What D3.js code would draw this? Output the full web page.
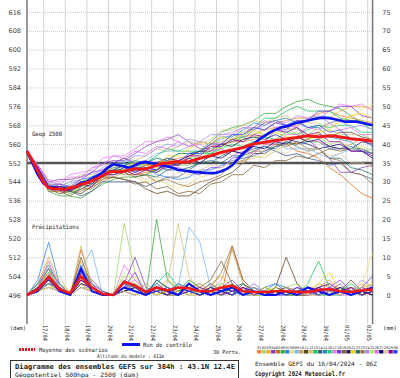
<!DOCTYPE html>
<html>
<head>
<meta charset="utf-8">
<script src="https://cdnjs.cloudflare.com/ajax/libs/d3/7.8.5/d3.min.js"></script>
<style>
body { margin: 0; background: #fff; }
svg { display: block; }
.mono { font-family: "DejaVu Sans Mono", "Liberation Mono", monospace; fill: #222; }
.tick text { font-family: "DejaVu Sans", Verdana, sans-serif; font-size: 6.5px; fill: #444; }
</style>
</head>
<body>
<div id="chart"></div>
<script>
// chart size
var width = 400;
var height = 378;

// time steps (hours after 16/04 06Z)
var hours12 = d3.range(0, 385, 12);
var hours6 = d3.range(0, 385, 6);
var dayHours = d3.range(18, 384, 24);
var dates = ["17/04","18/04","19/04","20/04","21/04","22/04","23/04","24/04",
  "25/04","26/04","27/04","28/04","29/04","30/04","01/05","02/05"];

// axis ticks
var damTicks = d3.range(496, 617, 8);
var mmTicks = d3.range(0, 76, 5);

// legend colours of the 30 perturbations
var pertColors = ["#f08040","#a8d468","#f0a830","#8040b8","#d86818","#38a838","#3080f0","#f0e078",
  "#78b8f0","#c89858","#604018","#d0c078","#20c058","#405888","#2888c0","#20d070","#e080f0",
  "#8030f0","#806030","#202060","#f0d010","#207070","#a07040","#a090f0","#b0f070","#e070e0",
  "#100080","#e0c8a0","#900090","#3040f0"];

// mean of scenarios, Z500 (dam), 6h steps
var meanZ500 = [557,553,548.5,544,541.5,541,541,540.5,541.5,541.8,543,543.5,544.5,545.5,546.5,548,
  548.5,548.2,548.5,549,549.5,549.3,549.5,550.2,551,551.8,552,552.3,552.5,552.3,552.5,553.2,554,
  554.5,555,555.8,556.5,557,557.5,558,558.5,559.3,560,560.4,560.8,561.2,561.5,561.8,562.2,562.5,562.8,
  563.2,563.5,563.3,563,563.2,563.5,563.4,563,562.7,562.3,562,561.8,561.5,561.2];

// control run, Z500 (dam), 6h steps
var ctrlZ500 = [557,552,547,543.5,542,541.5,541,540.5,541,542,543.5,544,545,546.5,548,550,551.5,
  551,550.5,550,551,552,552.4,552,551.5,551,550.5,550,549,548.8,548.5,548.2,548,547.8,547.7,547.8,
  548.5,549.5,551,553.5,556,558,560,562,563.5,565,566,567,567.5,568.3,569,569.5,570,570.5,571,
  571.2,571,570.5,570,569.5,569.5,569.5,569,568.5,568];

// perturbations, Z500 (dam), 12h steps
var pertZ500 = [
  [557,550,542,541,540,542,545,546,549,548,550,551,552,553,554,555,557,559,560,561,563,564,566,569,570,571,571,573,574,572,571,570,569],
  [557,549,543,542,542,544,545,548,549,551,552,552,554,553,551,551,554,555,556,559,562,563,564,566,567,566,564,567,569,570,570,570,568],
  [557,550,541,540,542,543,543,545,548,548,546,547,550,551,552,554,557,557,559,561,561,562,564,567,567,568,570,571,571,574,576,576,575],
  [557,551,544,545,545,546,548,552,553,553,556,559,561,562,564,561,558,558,560,561,562,566,569,570,568,567,562,558,554,548,548,550,551],
  [557,550,542,541,540,542,545,546,549,549,547,548,549,551,553,552,554,556,556,557,559,561,560,560,560,557,556,554,550,547,543,539,537],
  [557,549,540,538,538,537,540,543,545,546,546,547,549,553,556,556,557,561,565,567,568,570,573,573,576,578,579,577,576,575,572,569,568],
  [557,550,543,542,542,541,543,547,548,548,550,550,547,546,545,546,549,549,551,553,554,555,557,559,560,560,561,561,558,558,559,557,556],
  [557,549,541,541,539,541,544,545,548,548,546,544,545,543,541,543,546,547,548,551,553,554,555,557,560,560,562,565,568,569,571,575,577],
  [557,550,542,541,543,545,546,548,551,553,552,553,556,557,557,559,561,560,562,564,563,561,561,561,558,558,558,556,554,556,558,557,558],
  [557,549,542,542,540,540,542,544,546,548,550,549,551,553,553,554,557,560,561,562,565,567,566,567,567,564,561,561,559,558,560,562,561],
  [557,550,541,539,540,539,542,546,546,545,544,541,539,540,538,538,541,544,546,548,552,556,556,559,561,560,562,564,563,565,565,563,562],
  [557,550,543,542,544,547,547,549,552,554,553,555,558,557,559,561,560,562,566,566,568,570,569,571,572,569,569,569,566,564,564,564,562],
  [557,549,542,542,541,544,546,548,549,551,553,552,555,558,557,557,557,556,559,562,563,567,571,571,574,576,574,574,574,571,570,569,566],
  [557,550,541,540,540,538,540,544,544,544,544,542,544,546,546,549,552,552,555,557,556,558,559,557,555,556,554,553,551,552,548,547,545],
  [557,550,543,543,541,543,546,548,551,552,550,552,554,553,556,556,557,560,563,563,566,569,568,570,571,569,567,567,563,562,561,557,556],
  [557,549,541,541,540,542,545,546,550,548,549,549,548,550,552,552,556,556,558,560,559,561,563,562,565,564,566,568,567,568,568,565,565],
  [557,551,545,544,547,548,549,554,555,555,558,561,561,563,561,559,561,560,564,564,567,567,570,567,568,567,571,571,574,577,576,577,574],
  [557,550,542,543,542,545,548,549,552,554,552,553,551,549,550,548,547,550,550,554,555,560,561,566,566,570,570,574,574,576,576,572,571],
  [557,549,540,540,538,541,541,545,546,545,543,544,541,542,539,540,539,543,544,547,547,551,550,553,553,555,554,556,558,557,558,558,556],
  [557,550,542,541,542,542,546,547,550,551,549,551,552,554,553,555,557,557,560,559,562,563,562,564,562,561,560,558,559,558,558,561,560],
  [557,550,543,542,541,544,545,547,551,550,552,551,551,555,555,558,561,560,563,562,564,566,564,565,563,563,561,565,566,570,572,573,571],
  [557,549,541,541,539,541,543,547,547,548,546,547,546,549,549,550,552,553,552,555,555,557,559,558,561,559,557,558,554,554,550,549,547],
  [557,550,542,541,542,541,544,545,549,547,547,547,544,545,543,542,544,545,547,552,553,557,557,560,559,561,558,558,554,553,548,547,543],
  [557,550,543,542,544,545,546,550,553,552,555,555,558,560,559,562,561,564,564,565,567,566,568,570,569,572,571,572,569,570,567,568,566],
  [557,549,541,541,539,542,543,546,550,549,551,550,549,552,551,554,554,558,558,562,562,565,564,566,564,565,562,563,560,561,558,559,557],
  [557,551,544,543,546,546,550,551,555,554,557,556,559,558,561,559,560,557,558,555,557,556,560,560,564,564,567,566,569,566,567,564,564],
  [557,550,542,542,541,544,543,548,548,550,548,550,549,552,551,554,552,555,554,557,556,559,558,561,560,563,561,562,559,560,557,557,554],
  [557,549,541,540,542,541,545,545,549,546,547,545,546,545,548,547,549,551,550,553,552,555,554,557,556,559,557,558,555,556,552,552,550],
  [557,550,542,542,540,543,542,547,547,549,547,549,548,551,551,555,555,559,559,562,561,564,563,566,565,567,564,565,561,561,557,557,555],
  [557,550,542,541,541,542,546,547,549,551,548,550,549,552,552,556,556,560,560,564,564,567,566,569,568,570,567,568,565,566,562,562,559]
];

// mean and control precipitation (mm), 12h steps
var meanPrecip = [0,1.5,4.8,1.5,0.5,5,2,0.3,0,3.5,2.5,0.8,2,1.2,2,1.8,1,1,2,2.5,1,0.8,0.8,1,1,0.8,0.8,1.3,1.6,1,0.8,1.2,1.5];
var ctrlPrecip = [0,1,5,1,0,7,1,0,0,2,1,0,2,1,0,3,1,0,1,2,0,1,0,0,1,0,2,1,0,1,0,1,2];

// perturbations precipitation (mm), 12h steps
var pertPrecip = [
  [0,2,6,2,0,4,1,0,0,1,3,0,2,0,1,4,2,0,1,3,0,0,2,1,0,1,0,2,4,1,0,1,2],
  [0,1,3,1,0,5,2,0,0,19,6,1,3,2,0,1,0,2,3,1,0,1,0,0,2,3,1,0,0,1,2,0,1],
  [0,3,10,3,1,9,3,0,0,2,1,0,1,4,2,0,0,3,5,2,1,0,0,1,0,0,1,3,2,0,1,3,1],
  [0,2,4,2,0,7,4,1,0,3,10,2,1,0,3,1,0,1,2,4,1,0,1,0,2,1,0,0,1,3,0,2,5],
  [0,3,7,1,0,12,3,0,0,1,2,1,0,1,0,2,3,1,0,13,4,1,0,2,1,0,0,1,3,1,0,2,1],
  [0,1,3,2,0,6,3,0,0,2,1,0,20,4,1,2,1,0,3,1,0,2,1,0,1,0,2,1,0,0,1,0,2],
  [0,4,14,3,0,8,2,0,0,4,2,1,3,1,2,1,0,1,2,1,0,0,2,3,1,0,1,2,1,0,2,1,0],
  [0,2,5,2,1,3,1,0,0,3,5,0,2,1,0,3,2,0,1,0,2,1,0,0,1,2,0,0,2,1,0,3,11],
  [0,2,4,1,0,7,12,0,0,1,2,0,1,0,2,18,14,2,1,0,1,3,1,0,0,1,2,0,1,0,1,2,1],
  [0,3,6,2,0,4,2,0,0,2,1,3,1,0,1,2,0,1,4,12,3,0,1,0,2,0,1,1,0,2,0,1,3],
  [0,1,2,1,0,2,1,0,0,1,0,1,2,0,0,1,0,2,1,0,3,1,0,2,10,3,0,1,0,1,4,1,0],
  [0,3,5,5,0,13,3,0,0,5,2,0,1,3,19,5,1,0,2,1,0,1,0,1,0,2,1,0,1,0,2,1,0],
  [0,2,4,1,0,3,2,0,0,2,3,1,0,2,1,4,2,1,0,2,1,0,2,1,0,0,3,9,2,0,1,0,1],
  [0,1,3,2,0,5,3,1,0,3,1,0,4,2,0,1,1,3,1,0,1,2,0,0,1,0,0,2,1,1,0,2,1],
  [0,3,8,2,0,4,2,0,0,1,2,0,2,1,3,2,0,1,2,1,0,0,1,3,2,0,1,0,0,2,1,0,1],
  [0,2,4,1,0,6,3,0,0,2,1,0,3,6,2,1,0,2,1,3,1,0,0,1,0,1,2,1,0,1,3,1,0],
  [0,1,5,2,0,3,2,0,0,8,4,1,1,0,2,1,2,0,1,2,0,3,1,0,1,0,1,2,1,0,0,1,2],
  [0,2,4,1,0,5,1,0,0,2,6,0,2,1,0,3,1,1,0,1,2,0,1,0,0,2,1,0,2,4,1,0,1],
  [0,2,3,2,0,10,2,0,0,1,2,0,1,2,1,0,2,4,9,3,0,1,0,2,1,0,0,1,0,1,2,0,1],
  [0,3,6,1,0,4,2,0,0,2,1,0,2,1,0,1,0,1,2,1,0,1,0,1,2,1,0,2,3,1,0,1,0],
  [0,1,2,2,0,3,1,0,0,3,2,1,0,1,2,0,1,0,1,2,1,0,2,1,0,1,0,3,6,1,0,2,3],
  [0,2,7,3,0,6,3,0,0,2,1,0,4,2,1,2,0,1,0,2,3,1,0,1,0,0,2,1,0,2,1,0,1],
  [0,2,5,2,0,4,2,0,0,1,3,0,1,0,1,2,1,2,6,13,4,1,0,1,2,0,1,0,1,0,2,1,0],
  [0,1,3,1,0,2,2,0,0,2,1,0,3,1,0,1,0,2,1,0,1,2,1,0,0,1,0,1,2,0,1,4,2],
  [0,3,6,1,0,5,2,0,0,6,3,0,2,1,1,0,2,1,0,1,0,0,1,2,0,1,2,0,0,1,0,1,2],
  [0,2,9,2,0,6,3,0,0,2,4,1,2,1,0,2,1,0,1,2,0,1,0,0,1,2,0,1,3,1,0,2,1],
  [0,1,4,2,0,3,2,0,0,1,2,0,1,0,2,1,0,2,1,0,2,1,0,1,0,1,2,0,1,2,0,1,0],
  [0,1,2,1,0,2,1,0,0,1,0,1,0,2,1,0,1,0,3,2,0,0,1,0,2,1,0,0,1,0,1,3,1],
  [0,2,5,2,0,4,2,0,0,2,1,0,2,1,0,1,2,1,0,1,2,0,1,0,1,0,1,2,0,1,2,0,1],
  [0,2,4,1,0,6,2,0,0,3,2,0,1,2,0,1,0,1,2,1,0,1,0,1,0,2,1,0,2,1,0,1,2]
];

var normZ500 = 552;

// plot area
var plotLeft = 27, plotRight = 372.6, plotBottom = 324;

var svg = d3.select("#chart").append("svg")
  .attr("width", width)
  .attr("height", height);

//scales
var xScale = d3.scaleLinear().domain([0, 384]).range([plotLeft, plotRight]);
var yDam = d3.scaleLinear().domain([496, 616]).range([295, 12]);
var yMm = d3.scaleLinear().domain([0, 75]).range([295, 12]);

//vertical day gridlines
svg.append("g")
  .attr("transform", "translate(0," + plotBottom + ")")
  .call(d3.axisBottom(xScale).tickValues(dayHours).tickSize(-plotBottom).tickFormat(""))
  .call(function(g) {
    g.select(".domain").remove();
    g.selectAll("line").attr("stroke", "#d4d4d4");
  });

//left axis + dotted horizontal gridlines
svg.append("g")
  .attr("transform", "translate(" + plotLeft + ",0)")
  .call(d3.axisLeft(yDam).tickValues(damTicks).tickSize(-(plotRight - plotLeft)).tickPadding(6))
  .call(function(g) {
    g.select(".domain").remove();
    g.selectAll("line").attr("stroke", "#c8c8c8").attr("stroke-dasharray", "1,1");
  });

//right axis (mm)
svg.append("g")
  .attr("transform", "translate(" + plotRight + ",0)")
  .call(d3.axisRight(yMm).tickValues(mmTicks).tickSize(0))
  .call(function(g) {
    g.select(".domain").remove();
    g.selectAll("text").attr("text-anchor", "end").attr("x", 18);
  });

// frame lines left and right
[plotLeft, plotRight].forEach(function(xp) {
  svg.append("line")
    .attr("x1", xp).attr("x2", xp)
    .attr("y1", 0).attr("y2", plotBottom)
    .attr("stroke", "#777")
    .attr("stroke-width", 1.5);
});

// norm line
svg.append("line")
  .attr("x1", plotLeft).attr("x2", plotRight)
  .attr("y1", yDam(normZ500)).attr("y2", yDam(normZ500))
  .attr("stroke", "#555")
  .attr("stroke-width", 2.5);

// line generators
var line12 = d3.line()
  .x(function(d, i) { return xScale(hours12[i]); })
  .y(function(d) { return yDam(d); });
var line6 = d3.line()
  .x(function(d, i) { return xScale(hours6[i]); })
  .y(function(d) { return yDam(d); });
var precipLine = d3.line()
  .x(function(d, i) { return xScale(hours12[i]); })
  .y(function(d) { return yMm(d); });

// precipitation members
svg.append("g").selectAll("path")
  .data(pertPrecip)
  .enter()
  .append("path")
  .attr("d", precipLine)
  .attr("fill", "none")
  .attr("stroke", function(d, i) { return pertColors[i]; })
  .attr("stroke-width", 0.9)
  .attr("opacity", 0.85);

// Z500 members
svg.append("g").selectAll("path")
  .data(pertZ500)
  .enter()
  .append("path")
  .attr("d", line12)
  .attr("fill", "none")
  .attr("stroke", function(d, i) { return pertColors[i]; })
  .attr("stroke-width", 0.9)
  .attr("opacity", 0.85);

// control run
svg.append("path")
  .attr("d", line6(ctrlZ500))
  .attr("fill", "none").attr("stroke", "#0a14f0").attr("stroke-width", 2.6);
svg.append("path")
  .attr("d", precipLine(ctrlPrecip))
  .attr("fill", "none").attr("stroke", "#0a14f0").attr("stroke-width", 2);

// mean
svg.append("path")
  .attr("d", line6(meanZ500))
  .attr("fill", "none").attr("stroke", "#f01818").attr("stroke-width", 3);
svg.append("path")
  .attr("d", precipLine(meanPrecip))
  .attr("fill", "none").attr("stroke", "#f01818").attr("stroke-width", 2.6);

// labels in plot
function monoText(txt, xp, yp, size, len, bold) {
  var t = svg.append("text")
    .attr("class", "mono")
    .attr("x", xp).attr("y", yp)
    .attr("font-size", size)
    .text(txt);
  if (len) t.attr("textLength", len).attr("lengthAdjust", "spacingAndGlyphs");
  if (bold) t.attr("font-weight", "bold");
  return t;
}
monoText("Geop Z500", 32, 136, 6, 30);
monoText("Précipitations", 32, 229, 6, 47);
monoText("(dam)", 10, 330, 5.5, 16);
monoText("(mm)", 383, 330, 5.5, 14);

// date labels (rotated)
svg.append("g").selectAll("text")
  .data(dates)
  .enter()
  .append("text")
  .attr("class", "mono")
  .attr("font-size", 6)
  .attr("transform", function(d, i) {
    return "translate(" + (xScale(dayHours[i]) + 2) + "," + (plotBottom + 1) + ")rotate(90)";
  })
  .attr("dy", "0.35em")
  .attr("textLength", 16)
  .attr("lengthAdjust", "spacingAndGlyphs")
  .text(function(d) { return d; });

// legend
svg.append("line")
  .attr("x1", 19).attr("x2", 35).attr("y1", 349.5).attr("y2", 349.5)
  .attr("stroke", "#f01818").attr("stroke-width", 3).attr("stroke-dasharray", "2,1");
monoText("Moyenne des scénarios", 39, 352, 5.8, 69);
svg.append("line")
  .attr("x1", 122).attr("x2", 140).attr("y1", 344.5).attr("y2", 344.5)
  .attr("stroke", "#0a14f0").attr("stroke-width", 3);
monoText("Run de contrôle", 143, 347, 5.8, 49);
monoText("Altitude du modele : 411m", 97, 358, 5, 67);
monoText("30 Perts.", 213, 354, 5.5, 28);

var boxW = 141 / 30;
var legendBoxes = svg.append("g");
legendBoxes.selectAll("rect")
  .data(pertColors)
  .enter()
  .append("rect")
  .attr("x", function(d, i) { return 257 + i * boxW; })
  .attr("y", 350)
  .attr("width", boxW - 0.5)
  .attr("height", 3.5)
  .attr("fill", function(d) { return d; });
legendBoxes.selectAll("text")
  .data(pertColors)
  .enter()
  .append("text")
  .attr("class", "mono")
  .attr("font-size", 3.6)
  .attr("x", function(d, i) { return 257 + i * boxW + boxW / 2; })
  .attr("y", 348.5)
  .attr("text-anchor", "middle")
  .text(function(d, i) { return d3.format("02d")(i + 1); });

// title box
svg.append("rect")
  .attr("x", 10.5).attr("y", 360.5)
  .attr("width", 228).attr("height", 20)
  .attr("fill", "none").attr("stroke", "#333");
monoText("Diagramme des ensembles GEFS sur 384h : 43.1N 12.4E", 15, 368.5, 7, 220, true);
monoText("Géopotentiel 500hpa - Z500 (dam)", 15, 376.5, 6, 124);
monoText("Ensemble GEFS du 16/04/2024 - 06Z", 255, 366, 6, 122);
monoText("Copyright 2024 Meteociel.fr", 255, 376, 6.5, 90, true);
</script>
</body>
</html>
